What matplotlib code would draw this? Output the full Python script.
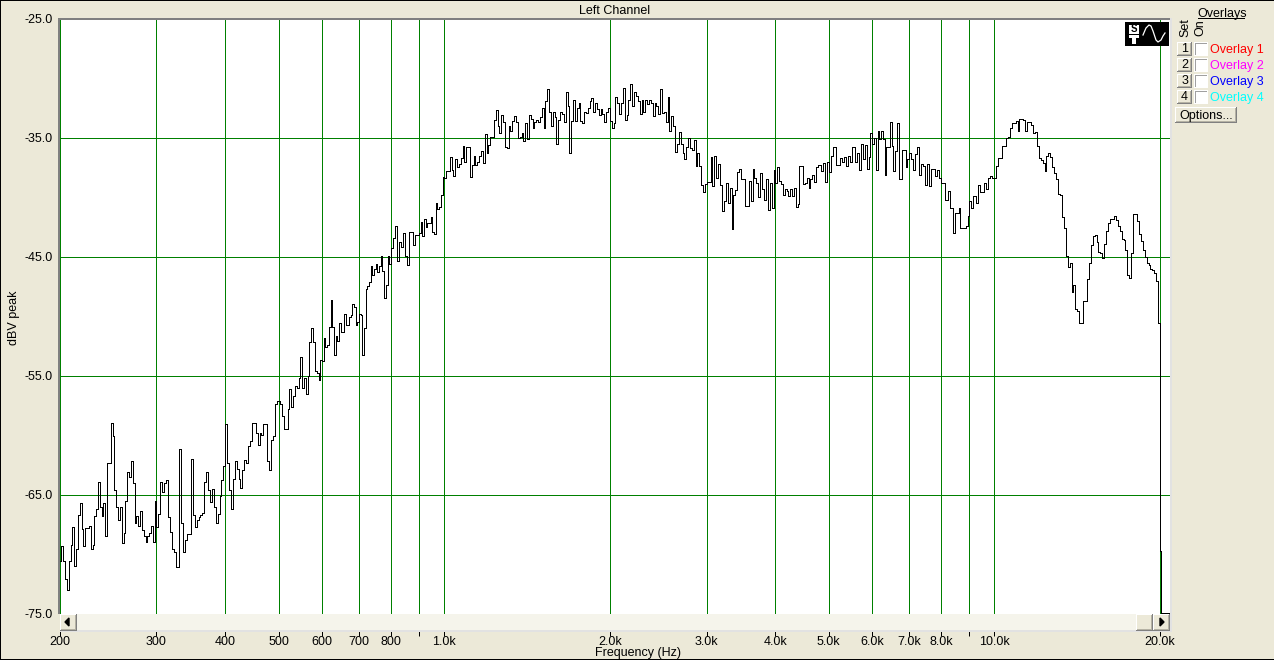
import matplotlib
matplotlib.use('Agg')
import matplotlib.pyplot as plt
from matplotlib.patches import Rectangle
import numpy as np

plt.rcParams['font.family'] = ['Liberation Sans', 'DejaVu Sans']

# dBV values, one list per gridline interval
db_200_300 = [-70.6, -69.3, -70.6, -72.1, -73.0, -70.6, -69.2, -67.7, -71.0, -69.6, -66.7, -65.7, -67.9, -69.3,
              -67.8, -67.8, -67.6, -69.6, -69.2, -66.8, -66.2, -63.9, -66.0, -66.8, -65.7, -68.5, -62.3, -62.3,
              -59.0, -60.1, -64.6, -66.0, -67.1, -66.0, -69.1, -68.2, -65.5, -63.1, -63.5, -62.2, -64.0, -67.4,
              -66.8, -67.6, -66.4, -68.0, -68.5, -69.0, -68.5, -68.2, -67.6, -69.0, -65.5]
db_300_400 = [-67.7, -66.6, -63.9, -64.8, -64.0, -63.8, -66.9, -68.1, -69.6, -69.8, -71.1, -71.1, -61.2, -67.4,
              -69.8, -68.8, -68.3, -68.3, -62.0, -66.7, -67.7, -67.1, -66.9, -66.7, -66.5, -63.9, -63.1, -64.6,
              -65.6, -64.5, -66.0, -67.4, -66.6, -65.1, -63.8, -62.6]
db_400_500 = [-59.1, -62.3, -64.6, -66.2, -63.7, -62.2, -62.8, -63.7, -64.4, -62.9, -62.1, -62.3, -60.9, -60.5,
              -59.0, -59.0, -59.8, -60.8, -59.8, -60.0, -59.1, -59.1, -62.2, -62.9, -60.4, -60.1, -57.4, -57.1]
db_500_600 = [-57.1, -57.4, -58.4, -59.5, -59.5, -57.8, -56.1, -57.6, -56.7, -55.9, -56.0, -55.2, -53.4, -56.0,
              -55.2, -56.5, -55.0, -52.2, -51.0, -52.2, -54.6, -54.8, -55.4, -53.7]
db_600_700 = [-53.8, -51.8, -52.6, -52.4, -50.9, -48.6, -50.9, -53.3, -51.7, -52.1, -50.6, -51.3, -51.3, -49.8,
              -50.7, -50.7, -50.1, -49.9, -49.0, -49.2, -50.7, -50.5]
db_700_800 = [-49.8, -49.9, -53.3, -51.0, -47.7, -47.5, -47.1, -45.8, -46.5, -46.0, -45.6, -46.3, -45.8, -44.9,
              -46.2, -48.5, -47.4, -44.9, -45.6]
db_800_900 = [-44.3, -43.4, -42.4, -45.4, -43.8, -44.2, -43.0, -44.9, -45.7, -42.9, -42.9, -44.0, -43.2, -43.2]
db_900_1k = [-43.0, -42.1, -43.3, -41.8, -42.5, -42.2, -42.2, -41.7, -42.9, -43.1, -40.5, -41.0, -40.8, -39.8,
             -38.3]
db_1k_2k = [-38.4, -37.8, -37.8, -36.6, -37.7, -38.2, -36.8, -37.5, -37.2, -36.7, -35.7, -37.0, -35.8, -35.8,
            -38.3, -37.3, -36.5, -37.3, -37.0, -36.5, -36.1, -37.1, -34.7, -36.3, -35.6, -34.9, -34.9, -33.5,
            -32.7, -34.0, -34.6, -33.1, -33.7, -35.8, -35.9, -34.0, -34.4, -33.6, -33.2, -33.7, -35.0, -34.9,
            -34.6, -35.3, -33.8, -35.1, -33.1, -33.4, -34.2, -33.7, -33.5, -33.7, -33.3, -32.5, -34.2, -31.9,
            -30.9, -32.8, -34.0, -32.8, -33.3, -35.5, -33.5, -32.8, -33.0, -33.7, -31.2, -32.3, -36.3, -33.6,
            -31.8, -33.6, -32.5, -32.1, -33.6, -33.8, -32.8, -32.9, -32.5, -31.9, -31.7, -32.8, -32.1, -32.6,
            -33.1, -32.6, -33.0, -33.7, -32.8, -32.5]
db_2k_3k = [-33.6, -34.2, -33.8, -31.6, -32.1, -33.0, -32.1, -30.8, -33.5, -33.1, -31.8, -30.5, -32.3, -31.2,
            -31.5, -31.9, -33.0, -31.8, -32.8, -31.8, -32.2, -31.8, -32.1, -33.2, -32.1, -32.3, -33.0, -30.9,
            -32.9, -32.8, -33.7, -31.6, -34.4, -33.2, -34.0, -36.2, -35.5, -34.5, -35.5, -36.3, -36.8, -35.8,
            -35.0, -35.9, -36.0, -35.2, -37.4, -36.3, -37.4, -39.0, -39.6, -38.9]
db_3k_4k = [-38.7, -38.7, -36.6, -39.1, -36.5, -38.4, -37.2, -39.0, -41.2, -40.3, -38.8, -40.5, -39.2, -42.7,
            -39.8, -39.4, -37.9, -37.6, -38.5, -38.5, -40.7, -40.7, -38.6, -40.3, -37.6, -38.4, -38.8, -40.0,
            -38.0, -39.3, -40.2, -38.5, -41.1, -38.8, -40.9, -37.7]
db_4k_5k = [-38.8, -37.5, -38.6, -38.9, -39.8, -39.3, -39.5, -39.9, -39.3, -39.9, -39.2, -40.8, -40.6, -37.4,
            -37.4, -38.9, -38.8, -38.4, -39.2, -38.5, -38.1, -38.7, -37.5, -37.3, -37.3, -37.8, -37.1, -38.7,
            -37.0]
db_5k_6k = [-37.9, -36.5, -35.8, -35.8, -37.3, -37.3, -36.7, -37.0, -36.6, -37.4, -36.5, -37.0, -35.8, -35.8,
            -37.0, -36.3, -37.7, -35.5, -36.8, -35.6, -37.6, -36.6, -34.6]
db_6k_7k = [-35.5, -35.0, -37.7, -34.4, -35.1, -34.4, -35.1, -38.1, -35.8, -35.8, -33.7, -35.7, -37.8, -36.1,
            -33.8, -38.5, -38.5, -36.0, -36.0, -37.5, -36.8]
db_7k_8k = [-36.3, -36.8, -37.7, -36.4, -35.8, -38.1, -37.2, -37.4, -39.0, -37.2, -39.1, -37.6, -37.6, -38.2,
            -37.7, -38.4]
db_8k_9k = [-38.8, -38.8, -40.2, -40.2, -39.5, -40.9, -40.9, -43.0, -41.3, -41.3, -40.9, -42.6, -42.6, -42.6,
            -42.4, -41.6]
db_9k_10k = [-40.3, -40.9, -39.9, -40.5, -39.0, -39.6, -39.6, -38.8, -39.3, -38.4, -38.2, -38.4]
db_10k_20k = [-38.4, -37.4, -36.7, -36.7, -35.7, -35.7, -35.0, -34.9, -34.2, -33.8, -33.8, -33.6, -34.4, -33.4,
              -33.4, -33.5, -34.4, -33.7, -33.7, -33.9, -34.6, -34.5, -35.7, -36.7, -36.9, -37.1, -37.8, -36.5,
              -36.3, -36.6, -37.5, -38.0, -38.5, -39.7, -39.8, -41.7, -42.6, -44.9, -45.9, -45.5, -48.0, -47.4,
              -49.4, -49.6, -50.6, -50.6, -48.7, -48.7, -46.9, -45.5, -44.0, -43.3, -43.2, -43.8, -44.6, -44.7,
              -45.1, -43.9, -42.8, -42.2, -41.8, -41.8, -41.6, -41.9, -42.4, -42.8, -43.5, -43.6, -44.4, -46.5,
              -46.8, -44.7, -41.4, -41.4, -42.0, -43.1, -43.7, -44.4, -45.0, -45.5, -45.7, -46.0, -46.1, -46.4,
              -47.0, -50.6]
db_tail = [-69.7, -74.9]

segments = [db_200_300, db_300_400, db_400_500, db_500_600, db_600_700, db_700_800, db_800_900, db_900_1k,
            db_1k_2k, db_2k_3k, db_3k_4k, db_4k_5k, db_5k_6k, db_6k_7k, db_7k_8k, db_8k_9k, db_9k_10k, db_10k_20k]
grid_freqs = [200, 300, 400, 500, 600, 700, 800, 900, 1000, 2000, 3000, 4000, 5000, 6000, 7000, 8000, 9000,
              10000, 20000]
tail_freqs = [20000, 20100, 20800]

x_labels = ['200', '300', '400', '500', '600', '700', '800', '', '1.0k', '2.0k', '3.0k', '4.0k', '5.0k', '6.0k',
            '7.0k', '8.0k', '', '10.0k', '20.0k']
y_ticks = [-25, -35, -45, -55, -65, -75]
overlay_names = ['Overlay 1', 'Overlay 2', 'Overlay 3', 'Overlay 4']
overlay_colors = ['#ff0000', '#ff00ff', '#0000ff', '#00ffff']

W, H = 1274, 660
BG = '#ece9d8'
GREEN = '#008000'
FS = 9

freqs = []
values = []
for i in range(len(segments)):
    seg = segments[i]
    edges = np.geomspace(grid_freqs[i], grid_freqs[i + 1], len(seg) + 1)
    freqs.extend(edges[:-1])
    values.extend(seg)
freqs.extend(tail_freqs[:2])
values.extend(db_tail)
freqs.append(tail_freqs[2])
values.append(db_tail[-1])

fig = plt.figure(figsize=(W / 100, H / 100), dpi=100, facecolor=BG)

ax = fig.add_axes([59.6 / W, 1 - 613.7 / H, 1110.4 / W, 595 / H])
ax.set_xscale('log')
ax.set_xlim(200, 200 * 10 ** (1110.4 / 550.25))
ax.set_ylim(-75, -25)
ax.set_facecolor('white')
for s in ax.spines.values():
    s.set_visible(False)
ax.set_xticks(grid_freqs)
ax.set_xticklabels(x_labels, fontsize=FS)
ax.xaxis.set_minor_locator(matplotlib.ticker.NullLocator())
ax.set_yticks(y_ticks)
ax.set_yticklabels(['%.1f' % v for v in y_ticks], fontsize=FS)
ax.tick_params(axis='x', length=16, width=0.72, color='black', pad=0)
ax.tick_params(axis='y', length=0, pad=5)
ax.grid(True, color=GREEN, lw=0.72)
ax.set_axisbelow(True)
ax.step(freqs, values, where='post', color='black', lw=0.6, antialiased=False, snap=True, clip_on=False, zorder=3)

# window chrome, in pixel coordinates
ui = fig.add_axes([0, 0, 1, 1], zorder=5)
ui.set_xlim(0, W)
ui.set_ylim(H, 0)
ui.axis('off')
ui.patch.set_alpha(0)


def rect(x, y, w, h, color, z=1):
    ui.add_patch(Rectangle((x, y), w, h, facecolor=color, edgecolor='none', zorder=z))


def button(x, y, w, h):
    rect(x, y, w, h, '#808080')
    rect(x, y, w - 1, h - 1, 'white')
    rect(x + 1, y + 1, w - 2, h - 2, '#b5b2a4')
    rect(x + 1, y + 1, w - 3, h - 3, BG)


def label(x, y, s, **kw):
    kw.setdefault('fontsize', FS)
    kw.setdefault('va', 'center')
    ui.text(x, y, s, **kw)


# outer border and plot edges
rect(0, 0, W, 1, 'black')
rect(0, 0, 1, H, 'black')
rect(0, H - 1.5, W, 1.5, 'black')
rect(58, 18, 1112, 2, '#808080')
rect(58, 18, 2, 596, '#808080')
rect(1170, 18, 2, 614, '#e2e2e2')
rect(60, 630, 1112, 2, '#e2e2e2')

# scroll bar
rect(60, 613.5, 1110, 16.5, '#f5f4eb')
button(60, 614, 17, 17)
button(1136, 614, 17, 17)
button(1153, 614, 17, 17)
ui.fill([69, 65, 69], [618, 622, 626], color='black', zorder=2)
ui.fill([1160, 1164, 1160], [618, 622, 626], color='black', zorder=2)

label(615, 10.5, 'Left Channel', ha='center')
label(638, 653, 'Frequency (Hz)', ha='center')
label(14, 318, 'dBV peak', ha='center', rotation=90)

# logo
rect(1125, 22, 44, 24, 'black')
rect(1129, 25, 10, 9, 'white')
rect(1129, 35, 10, 3, 'white')
rect(1132, 38, 4, 6, 'white')
label(1134, 29.5, 'S', ha='center', color='black', fontsize=7, fontweight='bold')
ui.plot([1143, 1146, 1149, 1151, 1153, 1156, 1158, 1161, 1163, 1165],
        [35, 28, 25, 26, 31, 40, 42, 40, 36, 33], color='white', lw=0.9)

# overlays panel
label(1222, 13.5, 'Overlays', ha='center')
rect(1198, 18, 47, 1, 'black')
label(1185, 28, 'Set', ha='center', rotation=90)
label(1200, 28, 'On', ha='center', rotation=90)
for i in range(len(overlay_names)):
    y0 = 42 + i * 16
    button(1177, y0, 15, 14)
    label(1184.5, y0 + 7.5, str(i + 1), ha='center')
    rect(1194, y0, 14, 14, 'white')
    rect(1195, y0 + 1, 12, 12, '#a0a0a0')
    rect(1196, y0 + 2, 11, 11, 'white')
    label(1210, y0 + 7.5, overlay_names[i], color=overlay_colors[i])
button(1175, 107, 62, 16)
label(1206, 115.5, 'Options...', ha='center')

fig.savefig('out.png', dpi=100, facecolor=BG)
